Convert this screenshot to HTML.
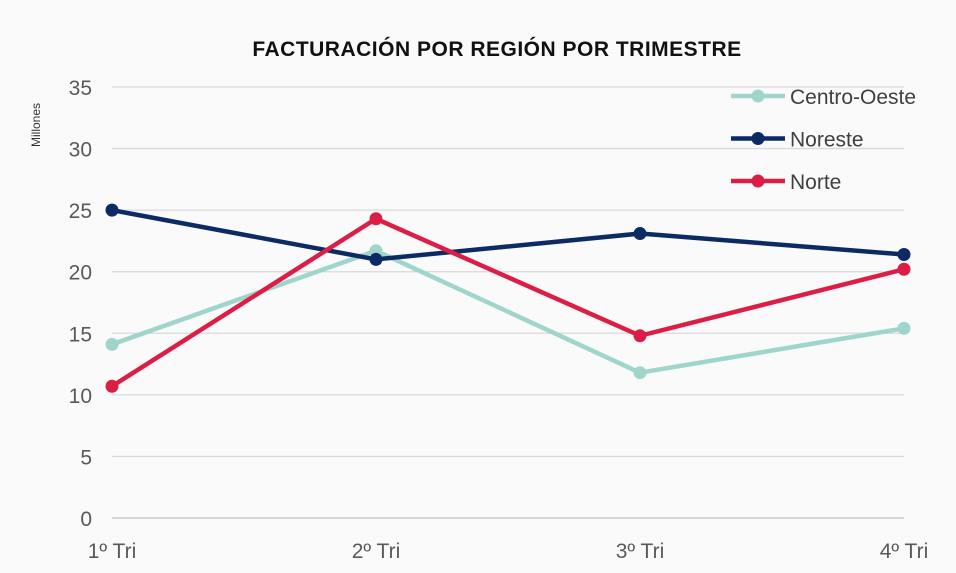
<!DOCTYPE html>
<html><head><meta charset="utf-8"><style>
html,body{margin:0;padding:0;background:#fafafa;}
svg{display:block;font-family:"Liberation Sans",sans-serif;}
</style></head><body>
<svg id="chart" width="956" height="573" viewBox="0 0 956 573">
<rect width="956" height="573" fill="#fafafa"/>
<text x="497" y="56" text-anchor="middle" font-size="21" font-weight="bold" fill="#111" letter-spacing="0.5">FACTURACIÓN POR REGIÓN POR TRIMESTRE</text>
<text transform="translate(40,125) rotate(-90)" text-anchor="middle" font-size="12" fill="#333">Millones</text>
<g id="grid"></g><g id="series"></g><g id="legend"></g>
</svg>
<script>
const categories=["1º Tri","2º Tri","3º Tri","4º Tri"];
const yTicks=[0,5,10,15,20,25,30,35];
const seriesNames=["Centro-Oeste","Noreste","Norte"];
const centroOeste=[14.1,21.7,11.8,15.4];
const noreste=[25.0,21.0,23.1,21.4];
const norte=[10.7,24.3,14.8,20.2];
const colors=["#9fd5cb","#0c2a64","#dc1e46"];
const NS="http://www.w3.org/2000/svg";
const x0=112,x1=904,y0=518,yTop=87,yMax=35;
function xs(i){return x0+i*(x1-x0)/(categories.length-1);}
function ys(v){return y0-v*(y0-yTop)/yMax;}
function mk(t,a,p){const e=document.createElementNS(NS,t);for(const k in a)e.setAttribute(k,a[k]);p.appendChild(e);return e;}
const grid=document.getElementById('grid');
yTicks.forEach(v=>{
 const l=mk('line',{x1:x0,x2:x1,y1:ys(v),y2:ys(v),stroke:v===0?'#bfbfbf':'#d9d9d9','stroke-width':1.3},grid);
 
 
 const t=mk('text',{x:92,y:ys(v)+8,'text-anchor':'end','font-size':21,fill:'#595959'},grid);
 t.textContent=v;
 
 
});
categories.forEach((c,i)=>{
 const t=mk('text',{x:xs(i),y:558,'text-anchor':'middle','font-size':21,fill:'#595959'},grid);
 t.textContent=c;
 
 
});
const sg=document.getElementById('series');
[centroOeste,noreste,norte].forEach((d,s)=>{
 const g=mk('g',{},sg);
 
 
 const p=mk('polyline',{points:d.map((v,i)=>xs(i)+','+ys(v)).join(' '),fill:'none',stroke:colors[s],'stroke-width':4.5,'stroke-linejoin':'round'},g);
 
 
 d.forEach((v,i)=>{
  const c=mk('circle',{cx:xs(i),cy:ys(v),r:6.5,fill:colors[s]},g);
  
  
 });
});
const lg=document.getElementById('legend');
seriesNames.forEach((n,s)=>{
 const y=96+s*42.5;
 const g=mk('g',{},lg);
 
 
 mk('line',{x1:731,x2:785,y1:y,y2:y,stroke:colors[s],'stroke-width':4.5},g);
 mk('circle',{cx:758,cy:y,r:6.5,fill:colors[s]},g);
 const t=mk('text',{x:790,y:y+8,'font-size':21,fill:'#404040'},g);
 t.textContent=n;
});
</script>
</body></html>
